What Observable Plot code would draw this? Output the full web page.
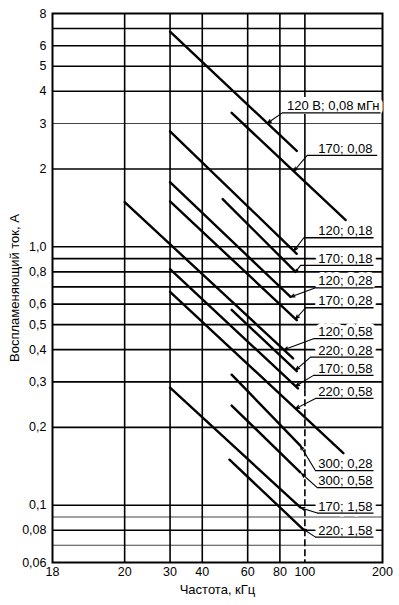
<!DOCTYPE html>
<html><head><meta charset="utf-8">
<script src="https://cdn.jsdelivr.net/npm/d3@7"></script>
<script src="https://cdn.jsdelivr.net/npm/@observablehq/plot@0.6"></script>
<style>body{margin:0;background:#fff} #chart svg{display:block}</style>
</head><body><div id="chart"></div>
<script>
// Curve labels (voltage; inductance)
const seriesLabels = ["120 В; 0,08 мГн", "170; 0,08", "120; 0,18", "170; 0,18", "120; 0,28", "170; 0,28",
  "120; 0,58", "220; 0,28", "170; 0,58", "220; 0,58", "300; 0,28", "300; 0,58", "170; 1,58", "220; 1,58"];
// Curve end points: frequency (kHz) and ignition current (A)
const fStart = [30, 52, 30, 48, 30, 30, 20, 52, 30, 30, 52, 52, 30, 51];
const iStart = [6.8, 3.3, 2.8, 1.53, 1.78, 1.5, 1.49, 0.57, 0.82, 0.67, 0.32, 0.243, 0.285, 0.15];
const fEnd = [93, 144, 93, 92, 88, 93, 90, 93, 94, 141, 96, 96, 96, 98];
const iEnd = [2.35, 1.27, 0.94, 0.80, 0.64, 0.52, 0.37, 0.33, 0.283, 0.159, 0.17, 0.134, 0.098, 0.081];
// Label annotations (data units)
const labelLevel = [3.30, 2.26, 1.084, 0.847, 0.694, 0.581, 0.441, 0.374, 0.318, 0.259, 0.136, 0.117, 0.0932, 0.0752];
const shelfStart = [81.7, 102.1, 99.1, 96.2, 110, 100.6, 108, 105.2, 108, 110, 110, 111.7, 111.7, 110];
const shelfEnd = [196.5, 190.8, 184.6, 184.6, 184.6, 184.6, 184.6, 184.6, 184.6, 184.6, 184.6, 184.6, 184.6, 184.6];
const textEnd = [194.8, 182.9, 182.9, 182.9, 182.9, 182.9, 182.9, 182.9, 182.9, 182.9, 182.9, 182.9, 182.9, 182.9];
const arrowF = [71.5, 90.6, 90.6, 92, 88, 92, 82.9, 92, 92, 92, 96, 97, 96.2, 97.7];
// Axes
const xTickValues = [10.5, 20, 30, 40, 60, 80, 100, 200];
const xTickLabels = ["18", "20", "30", "40", "60", "80", "100", "200"];
const xGrid = [20, 30, 40, 60, 80];
const xDashed = [100];
const yTickValues = [8, 6, 5, 4, 3, 2, 1, 0.8, 0.6, 0.5, 0.4, 0.3, 0.2, 0.1, 0.08, 0.06];
const yTickLabels = ["8", "6", "5", "4", "3", "2", "1,0", "0,8", "0,6", "0,5", "0,4", "0,3", "0,2", "0,1", "0,08", "0,06"];
const yGridBold = [7, 6, 5, 4, 2, 1, 0.9, 0.8, 0.7, 0.6, 0.5, 0.4, 0.3, 0.2, 0.1, 0.08];
const yGridThin = [3, 0.09, 0.07];
const xTitle = "Частота, кГц";
const yTitle = "Воспламеняющий ток, А";

const xTicks = xTickValues.map((v, i) => ({v, t: xTickLabels[i]}));
const yTicks = yTickValues.map((v, i) => ({v, t: yTickLabels[i]}));

const lineRows = [];
seriesLabels.forEach((s, i) => {
  lineRows.push({s, f: fStart[i], I: iStart[i]});
  lineRows.push({s, f: fEnd[i], I: iEnd[i]});
});
function onLine(i, f) {
  const t = (Math.log(f) - Math.log(fStart[i])) / (Math.log(fEnd[i]) - Math.log(fStart[i]));
  return Math.exp(Math.log(iStart[i]) + t * (Math.log(iEnd[i]) - Math.log(iStart[i])));
}
const ann = seriesLabels.map((s, i) => ({
  s, level: labelLevel[i], x0: shelfStart[i], x1: shelfEnd[i], tx: textEnd[i],
  af: arrowF[i], ai: onLine(i, arrowF[i])
}));

const chart = Plot.plot({
  width: 399, height: 605,
  marginLeft: 52, marginRight: 17, marginTop: 13, marginBottom: 43,
  x: {type: "log", domain: [10.5, 200], axis: null},
  y: {type: "log", domain: [0.06, 8], axis: null},
  style: {fontFamily: "'Liberation Sans', Arial, sans-serif", fontSize: "12px", color: "black", background: "white", overflow: "visible"},
  marks: [
    Plot.ruleY(yGridThin, {stroke: "#444", strokeWidth: 1.1}),
    Plot.ruleY(yGridBold, {stroke: "black", strokeWidth: 1.6}),
    Plot.ruleX(xGrid, {stroke: "black", strokeWidth: 1.6}),
    Plot.ruleX(xDashed, {y1: 8, y2: 0.28, stroke: "black", strokeWidth: 1.6}),
    Plot.ruleX(xDashed, {y1: 0.28, y2: 0.06, stroke: "black", strokeWidth: 1.6, strokeDasharray: "7,3"}),
    Plot.frame({stroke: "black", strokeWidth: 2}),
    Plot.text(xTicks, {x: "v", text: "t", frameAnchor: "bottom", lineAnchor: "top", dy: 5, fontSize: 12.5}),
    Plot.text(yTicks, {y: "v", text: "t", frameAnchor: "left", textAnchor: "end", dx: -6, fontSize: 12.5}),
    Plot.text([xTitle], {frameAnchor: "bottom", dy: 27, lineAnchor: "middle", fontSize: 13}),
    Plot.text([yTitle], {frameAnchor: "left", dx: -38, rotate: -90, textAnchor: "middle", lineAnchor: "middle", fontSize: 13}),
    Plot.text(ann, {x: "tx", y: "level", text: "s", textAnchor: "end", lineAnchor: "bottom", dy: -2.5, fontSize: 13,
      fill: "black", stroke: "white", strokeWidth: 8, paintOrder: "stroke"}),
    Plot.line(lineRows, {x: "f", y: "I", z: "s", stroke: "black", strokeWidth: 2.4}),
    Plot.link(ann, {x1: "x0", x2: "x1", y1: "level", y2: "level", stroke: "black", strokeWidth: 1.3}),
    Plot.arrow(ann, {x1: "x0", y1: "level", x2: "af", y2: "ai", stroke: "black", strokeWidth: 1.1, headLength: 6, headAngle: 40})
  ]
});
document.getElementById("chart").appendChild(chart);
</script>
</body></html>
